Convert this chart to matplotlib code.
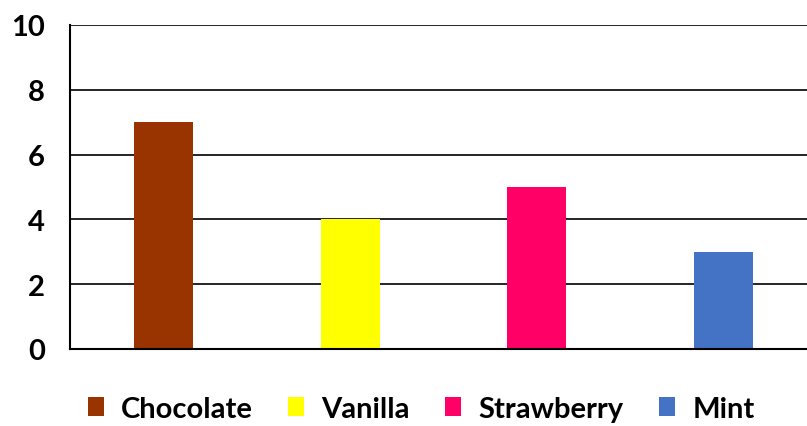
import matplotlib.pyplot as plt

flavours = ["Chocolate", "Vanilla", "Strawberry", "Mint"]
counts = [7, 4, 5, 3]
colours = ["#993300", "#FFFF00", "#FF0066", "#4472C4"]
y_ticks = [0, 2, 4, 6, 8, 10]

plt.rcParams['font.family'] = ['Lato', 'DejaVu Sans']
plt.rcParams['font.weight'] = 'bold'

fig = plt.figure(figsize=(8.07, 4.27), dpi=100)
ax = fig.add_axes([70/807, 77/427, 747/807, 324/427])

for i, (f, c, col) in enumerate(zip(flavours, counts, colours)):
    ax.bar(i, c, width=0.315, color=col, label=f, zorder=3)

ax.set_xlim(-0.5, 3.5)
ax.set_ylim(0, 10)
ax.set_yticks(y_ticks)
ax.set_yticklabels([str(t) for t in y_ticks], fontsize=21, fontweight='bold')
ax.set_xticks([])
ax.tick_params(axis='y', length=0, pad=18)
ax.grid(axis='y', color='black', linewidth=1.2, zorder=0)
for s in ['top', 'right']:
    ax.spines[s].set_visible(False)
for s in ['left', 'bottom']:
    ax.spines[s].set_linewidth(1.5)
    ax.spines[s].set_zorder(4)

leg = fig.legend(loc='center', bbox_to_anchor=(421/807, 1 - 410/427), ncol=4,
                 frameon=False, handlelength=0.55, handleheight=0.6,
                 handletextpad=0.6, columnspacing=1.2,
                 prop={'weight': 'bold', 'size': 21})

fig.savefig("out.png", dpi=100)
